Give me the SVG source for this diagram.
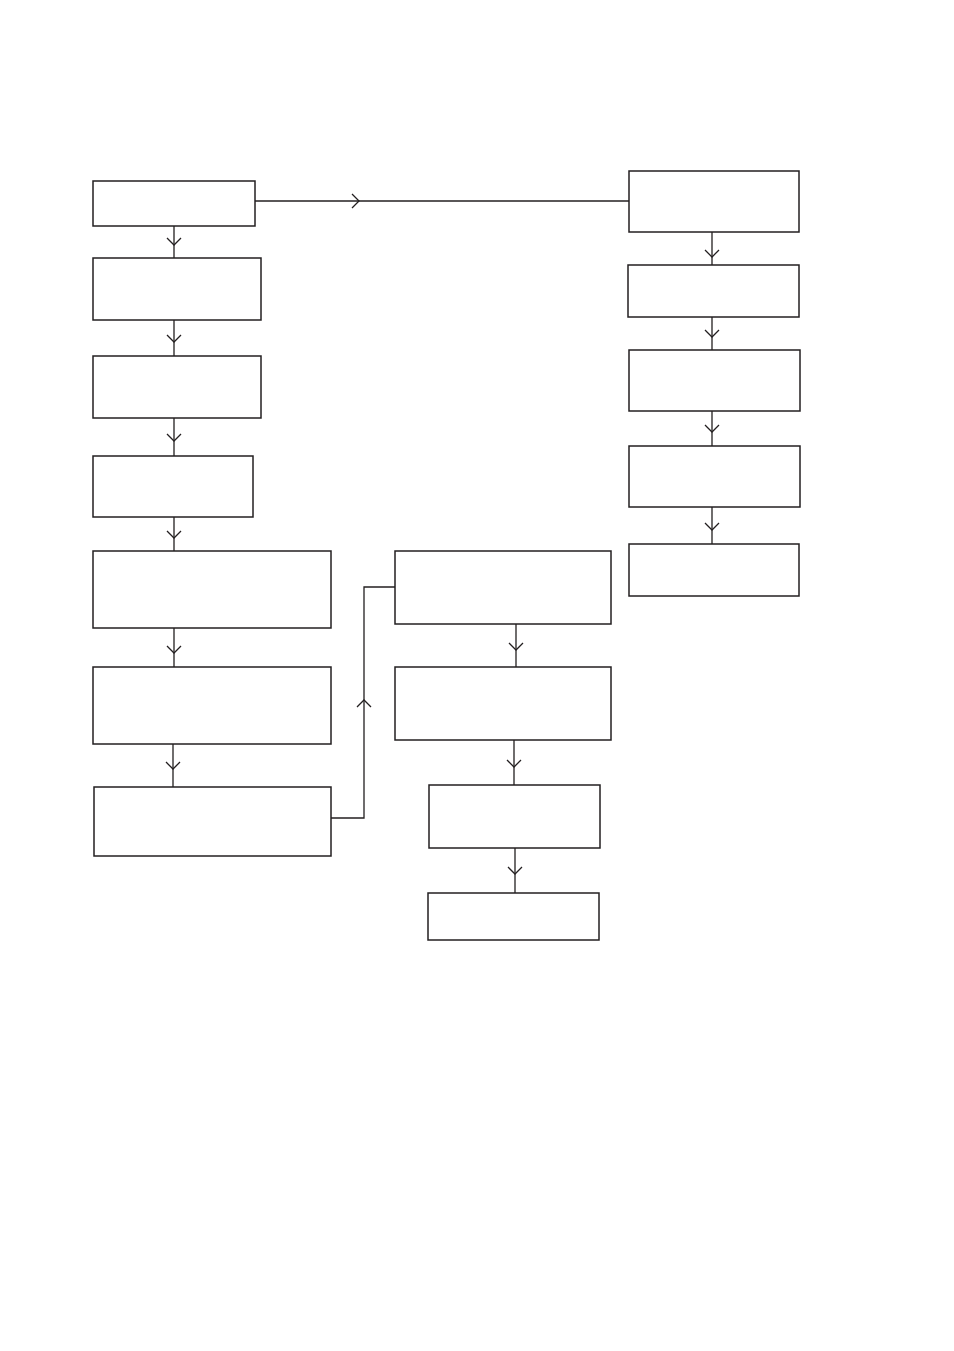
<svg xmlns="http://www.w3.org/2000/svg" width="954" height="1351" viewBox="0 0 954 1351">
<style>
.n rect{fill:#fff;stroke:#231f20;stroke-width:1.5}
.c line,.c polyline{fill:none;stroke:#231f20;stroke-width:1.3}
</style>
<rect width="954" height="1351" fill="#fff"/>
<g class="c" id="connectors">
<line x1="174" y1="226" x2="174" y2="258"/><polyline points="167,238 174,245 181,238"/>
<line x1="174" y1="320" x2="174" y2="356"/><polyline points="167,335 174,342 181,335"/>
<line x1="174" y1="418" x2="174" y2="456"/><polyline points="167,434 174,441 181,434"/>
<line x1="174" y1="517" x2="174" y2="551"/><polyline points="167,531 174,538 181,531"/>
<line x1="174" y1="628" x2="174" y2="667"/><polyline points="167,646 174,653 181,646"/>
<line x1="173" y1="744" x2="173" y2="787"/><polyline points="166,762 173,769 180,762"/>
<polyline points="331,818 364,818 364,587 395,587"/><polyline points="357,707 364,700 371,707"/>
<line x1="255" y1="201" x2="629" y2="201"/><polyline points="352,194 359,201 352,208"/>
<line x1="516" y1="624" x2="516" y2="667"/><polyline points="509,643 516,650 523,643"/>
<line x1="514" y1="740" x2="514" y2="785"/><polyline points="507,760 514,767 521,760"/>
<line x1="515" y1="848" x2="515" y2="893"/><polyline points="508,867 515,874 522,867"/>
<line x1="712" y1="232" x2="712" y2="265"/><polyline points="705,250 712,257 719,250"/>
<line x1="712" y1="317" x2="712" y2="350"/><polyline points="705,330 712,337 719,330"/>
<line x1="712" y1="411" x2="712" y2="446"/><polyline points="705,425 712,432 719,425"/>
<line x1="712" y1="507" x2="712" y2="544"/><polyline points="705,523 712,530 719,523"/>
</g>
<g class="n">
<g id="n1"><rect x="93" y="181" width="162" height="45"/></g>
<g id="n2"><rect x="93" y="258" width="168" height="62"/></g>
<g id="n3"><rect x="93" y="356" width="168" height="62"/></g>
<g id="n4"><rect x="93" y="456" width="160" height="61"/></g>
<g id="n5"><rect x="93" y="551" width="238" height="77"/></g>
<g id="n6"><rect x="93" y="667" width="238" height="77"/></g>
<g id="n7"><rect x="94" y="787" width="237" height="69"/></g>
<g id="n8"><rect x="395" y="551" width="216" height="73"/></g>
<g id="n9"><rect x="395" y="667" width="216" height="73"/></g>
<g id="n10"><rect x="429" y="785" width="171" height="63"/></g>
<g id="n11"><rect x="428" y="893" width="171" height="47"/></g>
<g id="n12"><rect x="629" y="171" width="170" height="61"/></g>
<g id="n13"><rect x="628" y="265" width="171" height="52"/></g>
<g id="n14"><rect x="629" y="350" width="171" height="61"/></g>
<g id="n15"><rect x="629" y="446" width="171" height="61"/></g>
<g id="n16"><rect x="629" y="544" width="170" height="52"/></g>
</g>
</svg>
